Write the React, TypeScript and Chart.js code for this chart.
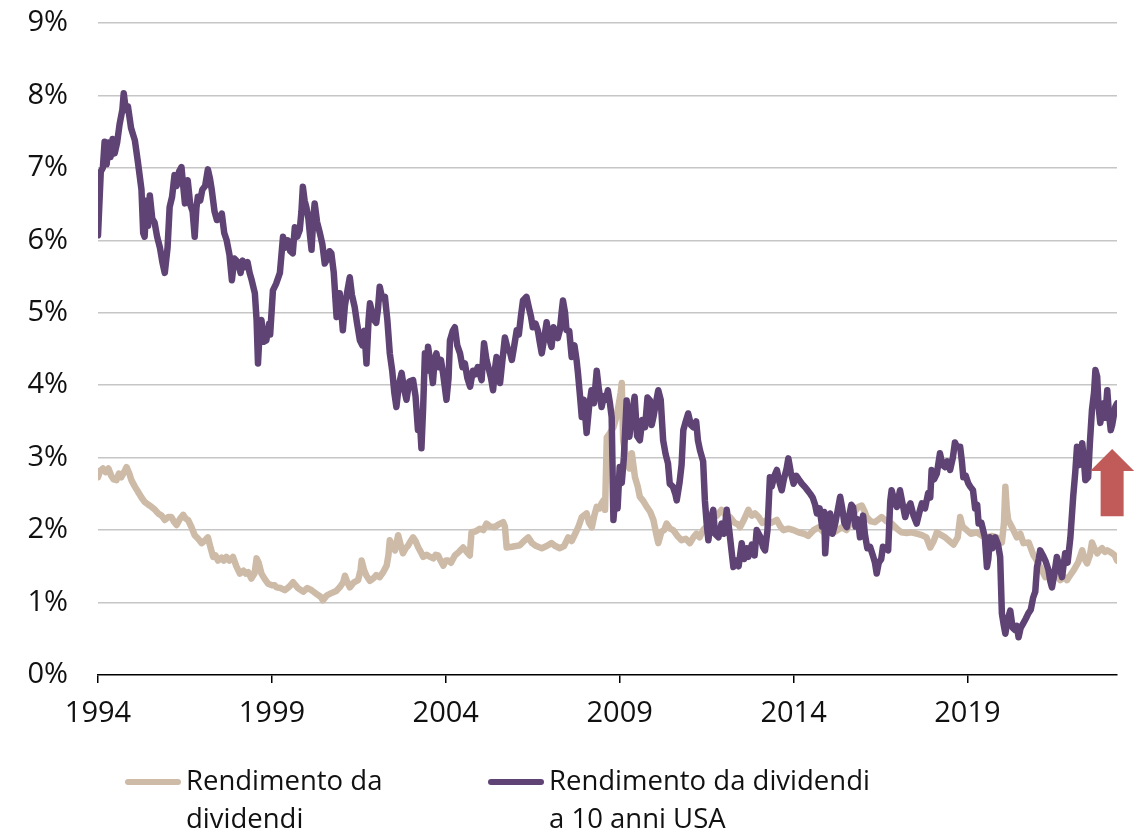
import React, { useEffect, useRef } from "react";
import { Chart, registerables } from "chart.js";

Chart.register(...registerables);

// ---- Data ----
const yieldYears = [
  1994.0, 1994.08, 1994.14, 1994.19, 1994.25, 1994.3, 1994.36, 1994.42, 1994.48, 1994.55, 1994.62, 1994.7, 1994.74, 1994.8, 1994.86, 1994.95,
  1995.06, 1995.15, 1995.25, 1995.3, 1995.34, 1995.4, 1995.44, 1995.49, 1995.56, 1995.63, 1995.7, 1995.78, 1995.85, 1995.92,
  1996.0, 1996.06, 1996.13, 1996.2, 1996.26, 1996.33, 1996.4, 1996.45, 1996.5, 1996.58, 1996.65, 1996.72, 1996.78, 1996.83, 1996.87, 1996.94,
  1997.0, 1997.08, 1997.16, 1997.22, 1997.27, 1997.35, 1997.42, 1997.5, 1997.56, 1997.63, 1997.7, 1997.78, 1997.85, 1997.92,
  1998.02, 1998.1, 1998.16, 1998.22, 1998.3, 1998.36, 1998.42, 1998.51, 1998.56, 1998.6, 1998.65, 1998.7, 1998.76, 1998.84, 1998.92, 1998.95,
  1999.03, 1999.12, 1999.23, 1999.32, 1999.39, 1999.46, 1999.53, 1999.6, 1999.66, 1999.73, 1999.8, 1999.85, 1999.89, 1999.94, 1999.99,
  2000.05, 2000.1, 2000.14, 2000.19, 2000.23, 2000.3, 2000.38, 2000.45, 2000.52, 2000.6, 2000.66, 2000.71, 2000.78, 2000.86, 2000.9, 2000.95,
  2001.0, 2001.04, 2001.1, 2001.17, 2001.24, 2001.3, 2001.38, 2001.45, 2001.53, 2001.6, 2001.66, 2001.72, 2001.78, 2001.82, 2001.88, 2001.94,
  2002.0, 2002.05, 2002.1, 2002.17, 2002.25, 2002.32, 2002.39, 2002.46, 2002.52, 2002.58, 2002.65, 2002.73, 2002.8, 2002.87, 2002.95,
  2003.06, 2003.13, 2003.2, 2003.25, 2003.3, 2003.35, 2003.4, 2003.45, 2003.49, 2003.56, 2003.63, 2003.68, 2003.73, 2003.8, 2003.86, 2003.92,
  2004.02, 2004.08, 2004.12, 2004.2, 2004.26, 2004.33, 2004.41, 2004.48, 2004.55, 2004.62, 2004.7, 2004.78, 2004.85, 2004.92,
  2005.03, 2005.1, 2005.17, 2005.25, 2005.3, 2005.36, 2005.42, 2005.46, 2005.52, 2005.56, 2005.63, 2005.7, 2005.78, 2005.85, 2005.9, 2005.97,
  2006.04, 2006.1, 2006.16, 2006.22, 2006.32, 2006.4, 2006.45, 2006.5, 2006.58, 2006.65, 2006.7, 2006.76, 2006.83, 2006.9, 2006.97,
  2007.04, 2007.1, 2007.17, 2007.22, 2007.28, 2007.33, 2007.37, 2007.43, 2007.47, 2007.55, 2007.62, 2007.7, 2007.76, 2007.8, 2007.86, 2007.91, 2007.97,
  2008.05, 2008.12, 2008.19, 2008.26, 2008.34, 2008.4, 2008.48, 2008.55, 2008.61, 2008.66, 2008.72, 2008.77, 2008.82, 2008.88, 2008.94,
  2009.0, 2009.06, 2009.12, 2009.2, 2009.28, 2009.35, 2009.43, 2009.5, 2009.58, 2009.65, 2009.73, 2009.8, 2009.87, 2009.92, 2009.97,
  2010.04, 2010.11, 2010.18, 2010.25, 2010.32, 2010.39, 2010.44, 2010.53, 2010.6, 2010.64, 2010.72, 2010.78, 2010.83, 2010.9, 2010.97,
  2011.05, 2011.12, 2011.2, 2011.25, 2011.31, 2011.4, 2011.45, 2011.5, 2011.55, 2011.62, 2011.69, 2011.74, 2011.84, 2011.93,
  2012.0, 2012.08, 2012.15, 2012.22, 2012.27, 2012.35, 2012.42, 2012.51, 2012.58, 2012.65, 2012.7, 2012.8, 2012.88, 2012.94,
  2013.05, 2013.12, 2013.18, 2013.25, 2013.32, 2013.37, 2013.45, 2013.52, 2013.6, 2013.66, 2013.72, 2013.8, 2013.85, 2013.92,
  2014.0, 2014.08, 2014.15, 2014.24, 2014.32, 2014.4, 2014.48, 2014.55, 2014.62, 2014.67, 2014.75, 2014.82, 2014.88, 2014.91, 2014.96,
  2015.05, 2015.12, 2015.2, 2015.26, 2015.34, 2015.4, 2015.46, 2015.53, 2015.6, 2015.66, 2015.71, 2015.78, 2015.85, 2015.91,
  2016.0, 2016.05, 2016.12, 2016.2, 2016.28, 2016.34, 2016.39, 2016.45, 2016.52, 2016.57, 2016.65, 2016.72, 2016.78, 2016.82, 2016.9, 2016.97,
  2017.06, 2017.12, 2017.21, 2017.28, 2017.36, 2017.45, 2017.54, 2017.62, 2017.69, 2017.78, 2017.87, 2017.93, 2017.97,
  2018.04, 2018.12, 2018.21, 2018.28, 2018.36, 2018.42, 2018.5, 2018.58, 2018.64, 2018.7, 2018.79, 2018.84, 2018.88, 2018.95,
  2019.02, 2019.08, 2019.16, 2019.22, 2019.28, 2019.32, 2019.4, 2019.45, 2019.5, 2019.56, 2019.6, 2019.65, 2019.72, 2019.8, 2019.88, 2019.94, 2019.99,
  2020.04, 2020.09, 2020.15, 2020.23, 2020.3, 2020.37, 2020.42, 2020.47, 2020.53, 2020.6, 2020.68, 2020.75, 2020.82, 2020.89, 2020.95,
  2021.0, 2021.05, 2021.09, 2021.17, 2021.24, 2021.33, 2021.38, 2021.43, 2021.5, 2021.57, 2021.64, 2021.72, 2021.76, 2021.81, 2021.88, 2021.96,
  2022.04, 2022.1, 2022.15, 2022.22, 2022.3, 2022.35, 2022.39, 2022.47, 2022.52, 2022.58, 2022.64, 2022.68, 2022.73, 2022.77, 2022.82, 2022.87, 2022.91, 2022.96,
  2023.02, 2023.07, 2023.12, 2023.16, 2023.2, 2023.25, 2023.3,
];
const yieldValues = [
  6.07, 6.95, 7.0, 7.36, 7.05, 7.35, 7.15, 7.4, 7.2, 7.35, 7.6, 7.8, 8.03, 7.8, 7.85, 7.55,
  7.38, 7.07, 6.7, 6.1, 6.05, 6.55, 6.2, 6.62, 6.3, 6.24, 6.05, 5.9, 5.7, 5.55,
  5.9, 6.46, 6.6, 6.9, 6.75, 6.95, 7.01, 6.75, 6.51, 6.83, 6.5, 6.4, 6.05, 6.45, 6.6, 6.55,
  6.7, 6.75, 6.98, 6.85, 6.7, 6.4, 6.28, 6.3, 6.37, 6.1, 6.0, 5.8, 5.45, 5.75,
  5.7, 5.55, 5.72, 5.63, 5.7, 5.55, 5.45, 5.27, 4.9, 4.3, 4.75, 4.9, 4.6, 4.62, 4.85, 4.7,
  5.31, 5.4, 5.55, 6.05, 5.9, 6.0, 5.85, 5.82, 6.18, 6.05, 6.14, 6.4, 6.74, 6.55, 6.46,
  6.3, 6.05, 5.87, 6.3, 6.51, 6.25, 6.1, 5.95, 5.68, 5.75, 5.85, 5.82, 5.55, 4.94, 5.27, 5.27,
  5.0, 4.76, 5.1, 5.3, 5.49, 5.25, 5.08, 4.85, 4.62, 4.55, 4.75, 4.3, 4.9, 5.13, 5.0, 4.9,
  4.86, 5.05, 5.36, 5.2, 5.22, 4.9, 4.44, 4.2, 3.9, 3.7, 4.0, 4.17, 3.95, 3.8, 4.05,
  4.07, 3.85, 3.38, 3.55, 3.13, 3.7, 4.44, 4.2, 4.53, 4.3, 4.03, 4.35, 4.44, 4.25, 4.35, 4.17,
  3.8, 4.1, 4.62, 4.75, 4.8, 4.55, 4.44, 4.25, 4.3, 4.1, 3.98, 4.2, 4.15, 4.25,
  4.07, 4.58, 4.35, 4.2, 4.1, 3.93, 4.25, 4.39, 4.1, 4.03, 4.35, 4.66, 4.5, 4.45, 4.35, 4.55,
  4.76, 4.7, 4.95, 5.17, 5.22, 5.05, 4.95, 4.8, 4.85, 4.75, 4.6, 4.44, 4.65, 4.87, 4.65,
  4.53, 4.8, 4.7, 4.65, 4.76, 5.0, 5.17, 5.0, 4.76, 4.75, 4.39, 4.55, 4.35, 4.17, 3.85, 3.56, 3.8,
  3.34, 3.7, 3.93, 3.75, 4.2, 3.95, 3.7, 3.85, 3.8, 3.93, 3.75, 3.56, 2.14, 2.5, 2.3,
  2.87, 2.65, 3.0, 3.79, 3.29, 3.6, 3.84, 3.3, 3.24, 3.52, 3.42, 3.83, 3.79, 3.45, 3.56,
  3.75, 3.93, 3.8, 3.24, 3.05, 2.92, 2.64, 2.6, 2.5, 2.41, 2.65, 2.9, 3.38, 3.5, 3.61,
  3.45, 3.42, 3.5, 3.24, 3.1, 2.95, 2.41, 2.1, 1.86, 2.15, 2.28, 1.95, 1.9, 2.09,
  1.95, 2.28, 2.0, 1.7, 1.49, 1.58, 1.5, 1.82, 1.6, 1.75, 1.63, 1.8, 1.65, 2.0,
  1.9, 1.77, 1.72, 2.0, 2.73, 2.6, 2.75, 2.83, 2.65, 2.55, 2.7, 2.85, 2.99, 2.8,
  2.64, 2.75, 2.7, 2.64, 2.6, 2.55, 2.5, 2.45, 2.35, 2.23, 2.3, 2.05, 2.25, 1.68, 2.05,
  2.23, 1.95, 2.1, 2.25, 2.46, 2.3, 2.1, 2.04, 2.2, 2.35, 2.32, 2.05, 2.15, 1.9,
  2.2, 1.95, 1.75, 1.77, 1.65, 1.55, 1.4, 1.55, 1.6, 1.77, 1.75, 1.72, 2.4, 2.55, 2.4, 2.32,
  2.55, 2.4, 2.18, 2.3, 2.37, 2.2, 2.09, 2.25, 2.37, 2.3, 2.51, 2.45, 2.83,
  2.7, 2.78, 3.06, 2.9, 2.87, 2.95, 2.83, 3.0, 3.21, 3.15, 3.15, 2.95, 2.73, 2.75,
  2.65, 2.6, 2.55, 2.3, 2.35, 2.09, 2.1, 2.0, 1.9, 1.49, 1.6, 1.9, 1.75, 1.9, 1.8, 1.63, 0.85,
  0.7, 0.57, 0.75, 0.89, 0.65, 0.62, 0.68, 0.52, 0.65, 0.71, 0.78, 0.85, 0.9, 1.07, 1.15,
  1.49, 1.6, 1.72, 1.65, 1.58, 1.45, 1.3, 1.21, 1.4, 1.63, 1.5, 1.35, 1.5, 1.68, 1.55, 1.9,
  2.46, 2.8, 3.15, 2.9, 3.2, 2.95, 2.69, 2.73, 3.2, 3.66, 3.9, 4.21, 4.12, 3.7, 3.48, 3.65, 3.75, 3.55,
  3.93, 3.6, 3.38, 3.45, 3.56, 3.7, 3.75,
];

const divYears = [
  1994.0, 1994.06, 1994.14, 1994.22, 1994.3, 1994.38, 1994.45, 1994.53, 1994.6, 1994.67, 1994.75, 1994.82, 1994.9, 1994.96,
  1995.06, 1995.15, 1995.25, 1995.34, 1995.45, 1995.54, 1995.64, 1995.73, 1995.83, 1995.92,
  1996.02, 1996.11, 1996.18, 1996.26, 1996.35, 1996.45, 1996.52, 1996.59, 1996.68, 1996.78, 1996.88, 1996.98,
  1997.08, 1997.16, 1997.24, 1997.31, 1997.38, 1997.45, 1997.55, 1997.62, 1997.69, 1997.78, 1997.88, 1997.98,
  1998.08, 1998.18, 1998.25, 1998.32, 1998.41, 1998.5, 1998.56, 1998.62, 1998.7, 1998.8, 1998.89,
  1999.0, 1999.08, 1999.13, 1999.25, 1999.37, 1999.5, 1999.61, 1999.75, 1999.9,
  2000.02, 2000.14, 2000.28, 2000.4, 2000.47, 2000.58, 2000.71, 2000.85, 2000.95,
  2001.05, 2001.1, 2001.17, 2001.24, 2001.36, 2001.48, 2001.55, 2001.58, 2001.65, 2001.72, 2001.82, 2001.91,
  2002.0, 2002.1, 2002.2, 2002.3, 2002.35, 2002.39, 2002.46, 2002.54, 2002.63, 2002.7, 2002.77, 2002.85, 2002.92, 2002.99,
  2003.06, 2003.13, 2003.21, 2003.28, 2003.35, 2003.45, 2003.55, 2003.64, 2003.71, 2003.78, 2003.85, 2003.93,
  2004.0, 2004.07, 2004.15, 2004.26, 2004.38, 2004.5, 2004.6, 2004.69, 2004.74, 2004.85, 2004.98,
  2005.08, 2005.17, 2005.28, 2005.41, 2005.52, 2005.65, 2005.7, 2005.75, 2005.9,
  2006.02, 2006.13, 2006.25, 2006.37, 2006.48, 2006.6, 2006.76, 2006.9,
  2007.04, 2007.15, 2007.28, 2007.4, 2007.52, 2007.62, 2007.72, 2007.81, 2007.91,
  2008.05, 2008.12, 2008.2, 2008.27, 2008.34, 2008.42, 2008.48, 2008.55, 2008.58, 2008.63, 2008.72, 2008.82, 2008.9, 2008.96,
  2009.03, 2009.06, 2009.1, 2009.15, 2009.2, 2009.28, 2009.35, 2009.44, 2009.52, 2009.58, 2009.68, 2009.78, 2009.88, 2009.97,
  2010.05, 2010.11, 2010.2, 2010.28, 2010.35, 2010.45, 2010.54, 2010.66, 2010.78, 2010.9,
  2011.02, 2011.12, 2011.21, 2011.3, 2011.4, 2011.5, 2011.6, 2011.69, 2011.8, 2011.93,
  2012.05, 2012.17, 2012.3, 2012.4, 2012.46, 2012.58, 2012.7, 2012.8, 2012.89,
  2013.0, 2013.1, 2013.23, 2013.35, 2013.52, 2013.62, 2013.71, 2013.85,
  2014.0, 2014.14, 2014.3, 2014.42, 2014.58, 2014.72, 2014.85,
  2015.0, 2015.2, 2015.39, 2015.52, 2015.62, 2015.75, 2015.86, 2015.96,
  2016.05, 2016.1, 2016.22, 2016.34, 2016.45, 2016.53, 2016.68, 2016.82, 2016.97,
  2017.1, 2017.25, 2017.39, 2017.54, 2017.69, 2017.82, 2017.93,
  2018.03, 2018.12, 2018.25, 2018.36, 2018.48, 2018.6, 2018.72, 2018.79, 2018.86, 2018.98,
  2019.1, 2019.27, 2019.42, 2019.56, 2019.7, 2019.84, 2019.99,
  2020.05, 2020.09, 2020.13, 2020.17, 2020.28, 2020.42, 2020.52, 2020.61, 2020.76, 2020.9,
  2021.0, 2021.09, 2021.24, 2021.35, 2021.48, 2021.6, 2021.67, 2021.8, 2021.86, 2021.96,
  2022.06, 2022.18, 2022.3, 2022.37, 2022.44, 2022.52, 2022.58, 2022.65, 2022.73, 2022.8, 2022.87, 2022.95,
  2023.02, 2023.1, 2023.16, 2023.24, 2023.3,
];
const divValues = [
  2.73, 2.82, 2.85, 2.8, 2.85, 2.75, 2.7, 2.69, 2.78, 2.73, 2.8, 2.87, 2.78, 2.69,
  2.6, 2.53, 2.45, 2.39, 2.35, 2.32, 2.28, 2.23, 2.2, 2.14,
  2.18, 2.18, 2.12, 2.07, 2.15, 2.21, 2.16, 2.14, 2.05, 1.93, 1.88, 1.82,
  1.86, 1.9, 1.75, 1.63, 1.65, 1.58, 1.62, 1.58, 1.63, 1.58, 1.63, 1.5,
  1.4, 1.44, 1.4, 1.42, 1.33, 1.4, 1.61, 1.55, 1.4, 1.32, 1.26,
  1.24, 1.24, 1.21, 1.2, 1.17, 1.22, 1.28, 1.2, 1.15,
  1.2, 1.17, 1.12, 1.08, 1.03, 1.1, 1.13, 1.16, 1.21,
  1.28, 1.37, 1.28, 1.21, 1.28, 1.31, 1.45, 1.58, 1.45, 1.37, 1.3, 1.33,
  1.38, 1.35, 1.42, 1.51, 1.65, 1.86, 1.78, 1.72, 1.93, 1.8, 1.68, 1.75, 1.79, 1.85,
  1.9, 1.85, 1.76, 1.7, 1.63, 1.66, 1.63, 1.61, 1.66, 1.65, 1.58, 1.51,
  1.58, 1.58, 1.55, 1.65, 1.7, 1.76, 1.7, 1.65, 1.97, 1.98, 2.02,
  2.0, 2.09, 2.05, 2.04, 2.08, 2.11, 2.05, 1.76, 1.77,
  1.78, 1.79, 1.85, 1.9, 1.82, 1.78, 1.75, 1.78,
  1.82, 1.78, 1.75, 1.78, 1.9, 1.85, 1.95, 2.04, 2.18,
  2.23, 2.1, 2.04, 2.2, 2.32, 2.3, 2.37, 2.42, 2.28, 3.28, 3.34, 3.42, 3.55, 3.7,
  3.9, 4.03, 3.24, 3.1, 2.97, 2.85, 3.06, 2.73, 2.6, 2.46, 2.4, 2.32, 2.25, 2.14,
  1.95, 1.82, 1.98, 2.0, 2.09, 2.02, 2.0, 1.92, 1.86, 1.88,
  1.82, 1.9, 1.95, 1.9, 2.0, 2.05, 2.15, 2.23, 2.2, 2.28,
  2.2, 2.18, 2.1, 2.08, 2.04, 2.15, 2.28, 2.2, 2.23,
  2.18, 2.1, 2.14, 2.1, 2.14, 2.05, 2.0, 2.02,
  2.0, 1.97, 1.95, 1.92, 2.0, 2.04, 1.98,
  2.0, 1.98, 2.04, 2.0, 2.09, 2.25, 2.32, 2.34,
  2.25, 2.18, 2.12, 2.11, 2.15, 2.18, 2.12, 2.09, 2.02,
  1.97, 1.96, 1.97, 1.95, 1.93, 1.9, 1.76,
  1.85, 1.97, 1.93, 1.9, 1.85, 1.8, 1.9, 2.18, 2.05, 2.0,
  1.95, 1.97, 1.92, 1.9, 1.92, 1.9, 1.83,
  2.1, 2.6, 2.3, 2.14, 2.04, 1.9, 1.95, 1.82, 1.83, 1.65,
  1.58, 1.49, 1.35, 1.42, 1.4, 1.35, 1.31, 1.35, 1.31, 1.38,
  1.45, 1.55, 1.72, 1.6, 1.54, 1.65, 1.83, 1.75, 1.68, 1.72, 1.75, 1.7,
  1.72, 1.7, 1.68, 1.65, 1.58,
];

const xTickYears = [1994, 1999, 2004, 2009, 2014, 2019];
const xMin = 1994;
const xMax = 2023.3;
const yMin = 0;
const yMax = 9;

const seriesLabels = [
  ["Rendimento da", "dividendi"],
  ["Rendimento da dividendi", "a 10 anni USA"],
];

// red arrow annotation (data coordinates)
const arrowYear = 2023.16;
const arrowFrom = 2.19;
const arrowTo = 3.12;

const COLOR_DIV = "#cdbba8";
const COLOR_YIELD = "#5e4374";
const COLOR_ARROW = "#c05b5a";
const FONT = "'Open Sans', 'Noto Sans', sans-serif";

const toPoints = (xs: number[], ys: number[]) => xs.map((x, i) => ({ x, y: ys[i] }));

const overlayPlugin = {
  id: "overlay",
  afterDraw(chart: any) {
    const ctx = chart.ctx as CanvasRenderingContext2D;
    const xs = chart.scales.x;
    const ys = chart.scales.y;
    // arrow
    const cx = xs.getPixelForValue(arrowYear);
    const yb = ys.getPixelForValue(arrowFrom);
    const yt = ys.getPixelForValue(arrowTo);
    const headH = 22;
    const shaftHalf = 11.5;
    const headHalf = 22;
    ctx.save();
    ctx.fillStyle = COLOR_ARROW;
    ctx.beginPath();
    ctx.moveTo(cx - shaftHalf, yb);
    ctx.lineTo(cx - shaftHalf, yt + headH);
    ctx.lineTo(cx - headHalf, yt + headH);
    ctx.lineTo(cx, yt);
    ctx.lineTo(cx + headHalf, yt + headH);
    ctx.lineTo(cx + shaftHalf, yt + headH);
    ctx.lineTo(cx + shaftHalf, yb);
    ctx.closePath();
    ctx.fill();

    // legend
    const items = [
      { x: 125, color: COLOR_DIV, lines: seriesLabels[0] },
      { x: 488, color: COLOR_YIELD, lines: seriesLabels[1] },
    ];
    ctx.font = `27.5px ${FONT}`;
    ctx.fillStyle = "#111";
    ctx.textAlign = "left";
    ctx.textBaseline = "alphabetic";
    for (const it of items) {
      ctx.strokeStyle = it.color;
      ctx.lineWidth = 6;
      ctx.lineCap = "round";
      ctx.beginPath();
      ctx.moveTo(it.x + 3, 782);
      ctx.lineTo(it.x + 53, 782);
      ctx.stroke();
      it.lines.forEach((t, i) => {
        ctx.fillText(t, it.x + 61, 790 + i * 38);
      });
    }
    ctx.restore();
  },
};

export default function App() {
  const ref = useRef<HTMLCanvasElement | null>(null);
  useEffect(() => {
    if (!ref.current) return;
    const chart = new Chart(ref.current, {
      type: "line",
      data: {
        datasets: [
          {
            label: seriesLabels[1].join(" "),
            data: toPoints(yieldYears, yieldValues),
            borderColor: COLOR_YIELD,
            borderWidth: 6.5,
            borderJoinStyle: "round",
            borderCapStyle: "round",
            pointRadius: 0,
            tension: 0,
          },
          {
            label: seriesLabels[0].join(" "),
            data: toPoints(divYears, divValues),
            borderColor: COLOR_DIV,
            borderWidth: 6.5,
            borderJoinStyle: "round",
            borderCapStyle: "round",
            pointRadius: 0,
            tension: 0,
          },
        ],
      },
      options: {
        responsive: false,
        animation: false,
        layout: { padding: { left: 0, right: 28, top: 23, bottom: 0 } },
        plugins: { legend: { display: false }, tooltip: { enabled: false } },
        scales: {
          x: {
            type: "linear",
            min: xMin,
            max: xMax,
            afterBuildTicks: (scale: any) => {
              scale.ticks = xTickYears.map((v) => ({ value: v }));
            },
            afterFit: (scale: any) => {
              scale.height = 161;
              scale.paddingLeft = 0;
              scale.paddingRight = 0;
            },
            grid: {
              drawOnChartArea: false,
              drawTicks: true,
              tickLength: 8,
              color: "#000",
              lineWidth: 1.5,
            },
            border: { display: true, color: "#000", width: 1.5 },
            ticks: {
              autoSkip: false,
              maxRotation: 0,
              padding: 13,
              color: "#111",
              font: { family: FONT, size: 29 },
              callback: (v: any) => String(v),
            },
          },
          y: {
            min: yMin,
            max: yMax,
            afterFit: (scale: any) => {
              scale.width = 98;
              scale.paddingTop = 0;
              scale.paddingBottom = 0;
            },
            grid: {
              drawTicks: false,
              color: (c: any) => (c.tick && c.tick.value === 0 ? "rgba(0,0,0,0)" : "#c6c6c6"),
              lineWidth: 1.5,
            },
            border: { display: false },
            ticks: {
              stepSize: 1,
              padding: 30,
              color: "#111",
              font: { family: FONT, size: 29 },
              callback: (v: any) => `${v}%`,
            },
          },
        },
      },
      plugins: [overlayPlugin],
    } as any);
    return () => chart.destroy();
  }, []);
  return (
    <div style={{ position: "absolute", left: 0, top: 0, width: 1145, height: 836, background: "#fff" }}>
      <canvas ref={ref} width={1145} height={836} />
    </div>
  );
}
